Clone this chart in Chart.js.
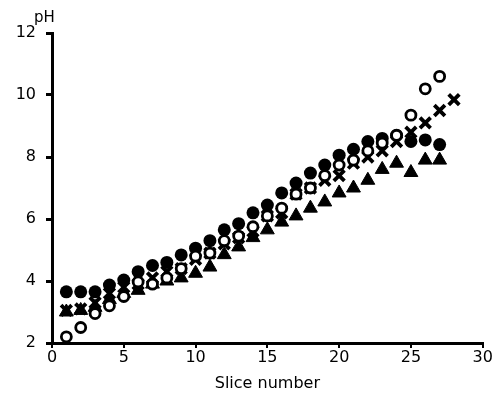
<!DOCTYPE html>
<html>
<head>
<meta charset="utf-8">
<script src="https://cdn.jsdelivr.net/npm/chart.js@4"></script>
<style>
  html, body { margin: 0; padding: 0; background: #fff; }
  #wrap { width: 494px; height: 393px; }
</style>
</head>
<body>
<div id="wrap"><canvas id="ph"></canvas></div>
<script>
// slice numbers and pH readings for each marker type
const slices = [1, 2, 3, 4, 5, 6, 7, 8, 9, 10, 11, 12, 13, 14, 15, 16, 17, 18, 19, 20, 21, 22, 23, 24, 25, 26, 27, 28];
const filledCircle = [3.65, 3.65, 3.65, 3.87, 4.03, 4.3, 4.5, 4.6, 4.84, 5.06, 5.3, 5.65, 5.85, 6.2, 6.45, 6.84, 7.16, 7.48, 7.74, 8.06, 8.25, 8.5, 8.6, 8.7, 8.5, 8.55, 8.4, null];
const openCircle = [2.2, 2.5, 2.95, 3.2, 3.5, 3.97, 3.9, 4.1, 4.4, 4.8, 4.9, 5.3, 5.45, 5.75, 6.1, 6.35, 6.8, 7.0, 7.4, 7.74, 7.9, 8.2, 8.45, 8.7, 9.35, 10.2, 10.6, null];
const cross = [3.05, 3.1, 3.3, 3.6, 3.8, 3.9, 4.1, 4.3, 4.4, 4.7, 4.9, 5.2, 5.4, 5.6, 6.1, 6.2, 6.8, 7.0, 7.25, 7.4, 7.8, 8.0, 8.2, 8.5, 8.8, 9.1, 9.5, 9.85];
const triangle = [3.0, 3.05, 3.15, 3.4, 3.6, 3.7, 3.9, 4.0, 4.1, 4.25, 4.45, 4.85, 5.1, 5.4, 5.65, 5.9, 6.1, 6.35, 6.55, 6.84, 7.0, 7.25, 7.6, 7.8, 7.5, 7.9, 7.9, null];
const xTicks = [0, 5, 10, 15, 20, 25, 30];
const yTicks = [2, 4, 6, 8, 10, 12];

function pts(vals) {
  return slices.map((s, i) => ({ x: s, y: vals[i] })).filter(p => p.y !== null);
}

const FONT = 'DejaVu Sans';

const phLabel = {
  id: 'phLabel',
  afterDraw(chart) {
    const c = chart.ctx;
    const y = chart.scales.y;
    c.save();
    c.fillStyle = '#000';
    c.font = '15px "' + FONT + '"';
    c.textBaseline = 'bottom';
    c.textAlign = 'left';
    c.fillText('pH', y.right - 18, y.top - 7);
    c.restore();
  }
};

new Chart(document.getElementById('ph'), {
  type: 'scatter',
  data: {
    datasets: [
      { label: 'open', data: pts(openCircle), pointStyle: 'circle', pointRadius: 5,
        backgroundColor: '#fff', borderColor: '#000', borderWidth: 2.8, order: 1 },
      { label: 'cross', data: pts(cross), pointStyle: 'crossRot', pointRadius: 7.5,
        backgroundColor: '#000', borderColor: '#000', borderWidth: 3.8, order: 2 },
      { label: 'filled', data: pts(filledCircle), pointStyle: 'circle', pointRadius: 6.5,
        backgroundColor: '#000', borderColor: '#000', borderWidth: 0, order: 3 },
      { label: 'triangle', data: pts(triangle), pointStyle: 'triangle', pointRadius: 8,
        backgroundColor: '#000', borderColor: '#000', borderWidth: 1, order: 4 }
    ]
  },
  options: {
    responsive: true,
    maintainAspectRatio: false,
    animation: false,
    layout: { padding: { top: 33, right: 11, left: 0, bottom: 0 } },
    plugins: { legend: { display: false }, tooltip: { enabled: false } },
    scales: {
      x: {
        type: 'linear', min: 0, max: 30,
        afterFit(s) { s.height = 50; },
        afterBuildTicks(s) { s.ticks = xTicks.map(v => ({ value: v })); },
        grid: { drawOnChartArea: false, drawTicks: true, tickLength: 5, color: '#000', lineWidth: 2 },
        border: { display: true, color: '#000', width: 3 },
        ticks: { color: '#000', font: { family: FONT, size: 16 }, padding: 0, maxRotation: 0 },
        title: { display: true, text: 'Slice number', color: '#000',
                 font: { family: FONT, size: 16 }, padding: { top: 0, bottom: 0 } }
      },
      y: {
        type: 'linear', min: 2, max: 12,
        afterFit(s) { s.width = 52; },
        afterBuildTicks(s) { s.ticks = yTicks.map(v => ({ value: v })); },
        grid: { drawOnChartArea: false, drawTicks: true, tickLength: 6, color: '#000', lineWidth: 3 },
        border: { display: true, color: '#000', width: 3 },
        ticks: { color: '#000', font: { family: FONT, size: 16 }, padding: 10 }
      }
    }
  },
  plugins: [phLabel]
});
</script>
</body>
</html>
